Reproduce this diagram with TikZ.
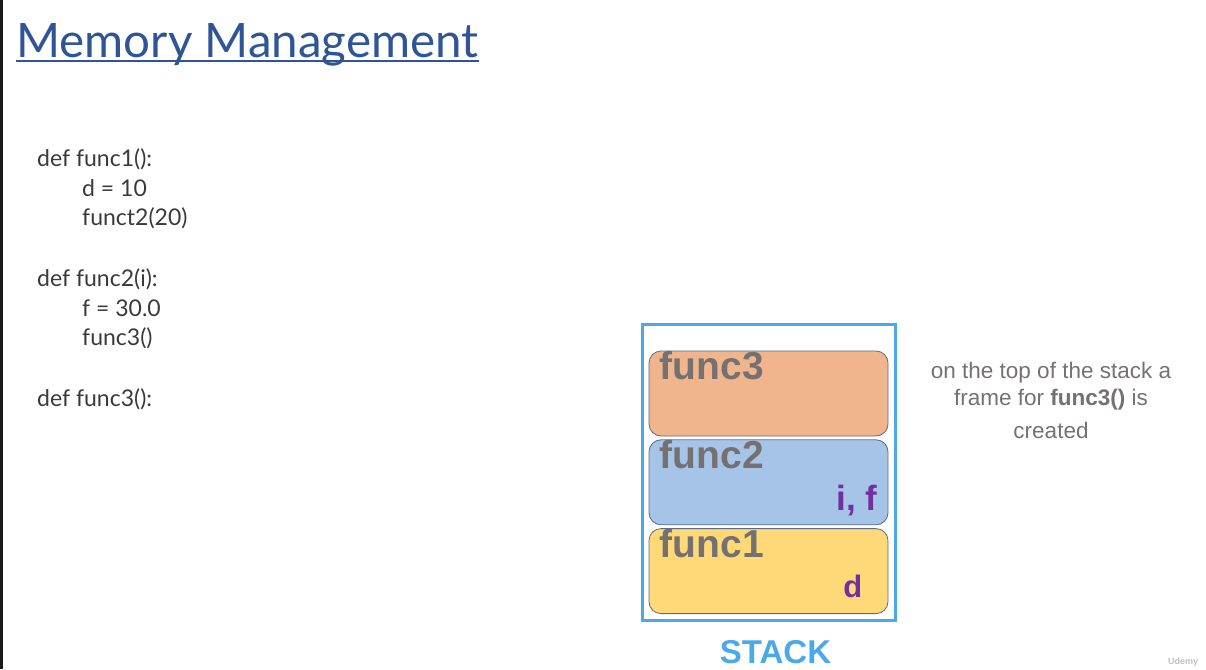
\documentclass[tikz,border=0pt]{standalone}
\usepackage{fontspec}
\setmainfont{Liberation Sans}
\newfontfamily\latofont{Lato}
\usepackage{tikz}
\usetikzlibrary{positioning}
\definecolor{titleblue}{HTML}{2F5597}
\definecolor{codegray}{HTML}{3A3A3A}
\definecolor{stackblue}{HTML}{4BA9E9}
\definecolor{labelgray}{HTML}{767171}
\definecolor{varpurple}{HTML}{7030A0}
\definecolor{edgeblue}{HTML}{5B6B8C}
\definecolor{frameorange}{HTML}{F0B58C}
\definecolor{frameblue}{HTML}{A6C3E8}
\definecolor{frameyellow}{HTML}{FFD878}
\tikzstyle{title} = [font=\latofont\fontsize{47.5}{47.5}\selectfont, text=titleblue, anchor=base west, inner sep=0pt]
\tikzstyle{code} = [font=\latofont\fontsize{23}{23}\selectfont, text=codegray, anchor=base west, inner sep=0pt]
\tikzstyle{frame} = [draw=edgeblue, line width=0.8pt, rounded corners=12pt, minimum width=239pt, minimum height=85pt, inner sep=0pt]
\tikzstyle{fname} = [font=\bfseries\fontsize{39}{39}\selectfont, text=labelgray, anchor=base west, inner sep=0pt]
\tikzstyle{vars} = [font=\bfseries\fontsize{35}{35}\selectfont, text=varpurple, anchor=base east, inner sep=0pt]
\tikzstyle{note} = [font=\fontsize{22.5}{22.5}\selectfont, text=labelgray, anchor=base, inner sep=0pt]

\begin{document}
\begin{tikzpicture}[x=1pt, y=-1pt]
    \useasboundingbox (0,0) rectangle (1206,669);
    \fill [black!90] (0,0) rectangle (2.5,669);

    % Title.
    \node (title) [title] at (16,57) {Memory Management};
    \draw [titleblue, line width=2.5pt] ([yshift=-4pt]title.base west) -- ([yshift=-4pt]title.base east);

    % Code.
    \foreach \n/\x/\y/\t in {1/37/166/{def func1():}, 2/82/196/{d = 10}, 3/82/225/{funct2(20)},
        4/37/286/{def func2(i):}, 5/82/316/{f = 30.0}, 6/82/345/{func3()}, 7/37/406/{def func3():}} {
        \node (code \n) [code] at (\x,\y) {\t};
    }

    % Stack.
    \node (stack) [draw=stackblue, line width=3pt, minimum width=253pt, minimum height=296pt] at (769,472.5) {};
    \node (func3) [frame, fill=frameorange] at (768.5,393.5) {};
    \node (func2) [frame, fill=frameblue, below=3pt of func3] {};
    \node (func1) [frame, fill=frameyellow, below=3pt of func2] {};
    \foreach \f in {func3, func2, func1} {
        \node (\f label) [fname] at ([xshift=11pt, yshift=-29pt]\f.north west) {\f};
    }
    \node (func2 vars) [vars] at ([xshift=-11pt, yshift=15pt]func2.south east) {i, f};
    \node (func1 vars) [vars, font=\bfseries\fontsize{31}{31}\selectfont] at ([xshift=-26pt, yshift=17pt]func1.south east) {d};
    \node (stack label) [font=\bfseries\fontsize{33}{33}\selectfont, text=stackblue, anchor=base, inner sep=0pt] at ([xshift=6.5pt, yshift=-41.5pt]stack.south) {STACK};

    % Note.
    \node (note 1) [note] at (1051,378) {on the top of the stack a};
    \node (note 2) [note] at (1051,405) {frame for \textbf{func3()} is};
    \node (note 3) [note] at (1051,438) {created};

    \node (logo) [font=\bfseries\fontsize{9}{9}\selectfont, text=black!25, inner sep=0pt] at (1183,662) {Udemy};
\end{tikzpicture}
\end{document}
